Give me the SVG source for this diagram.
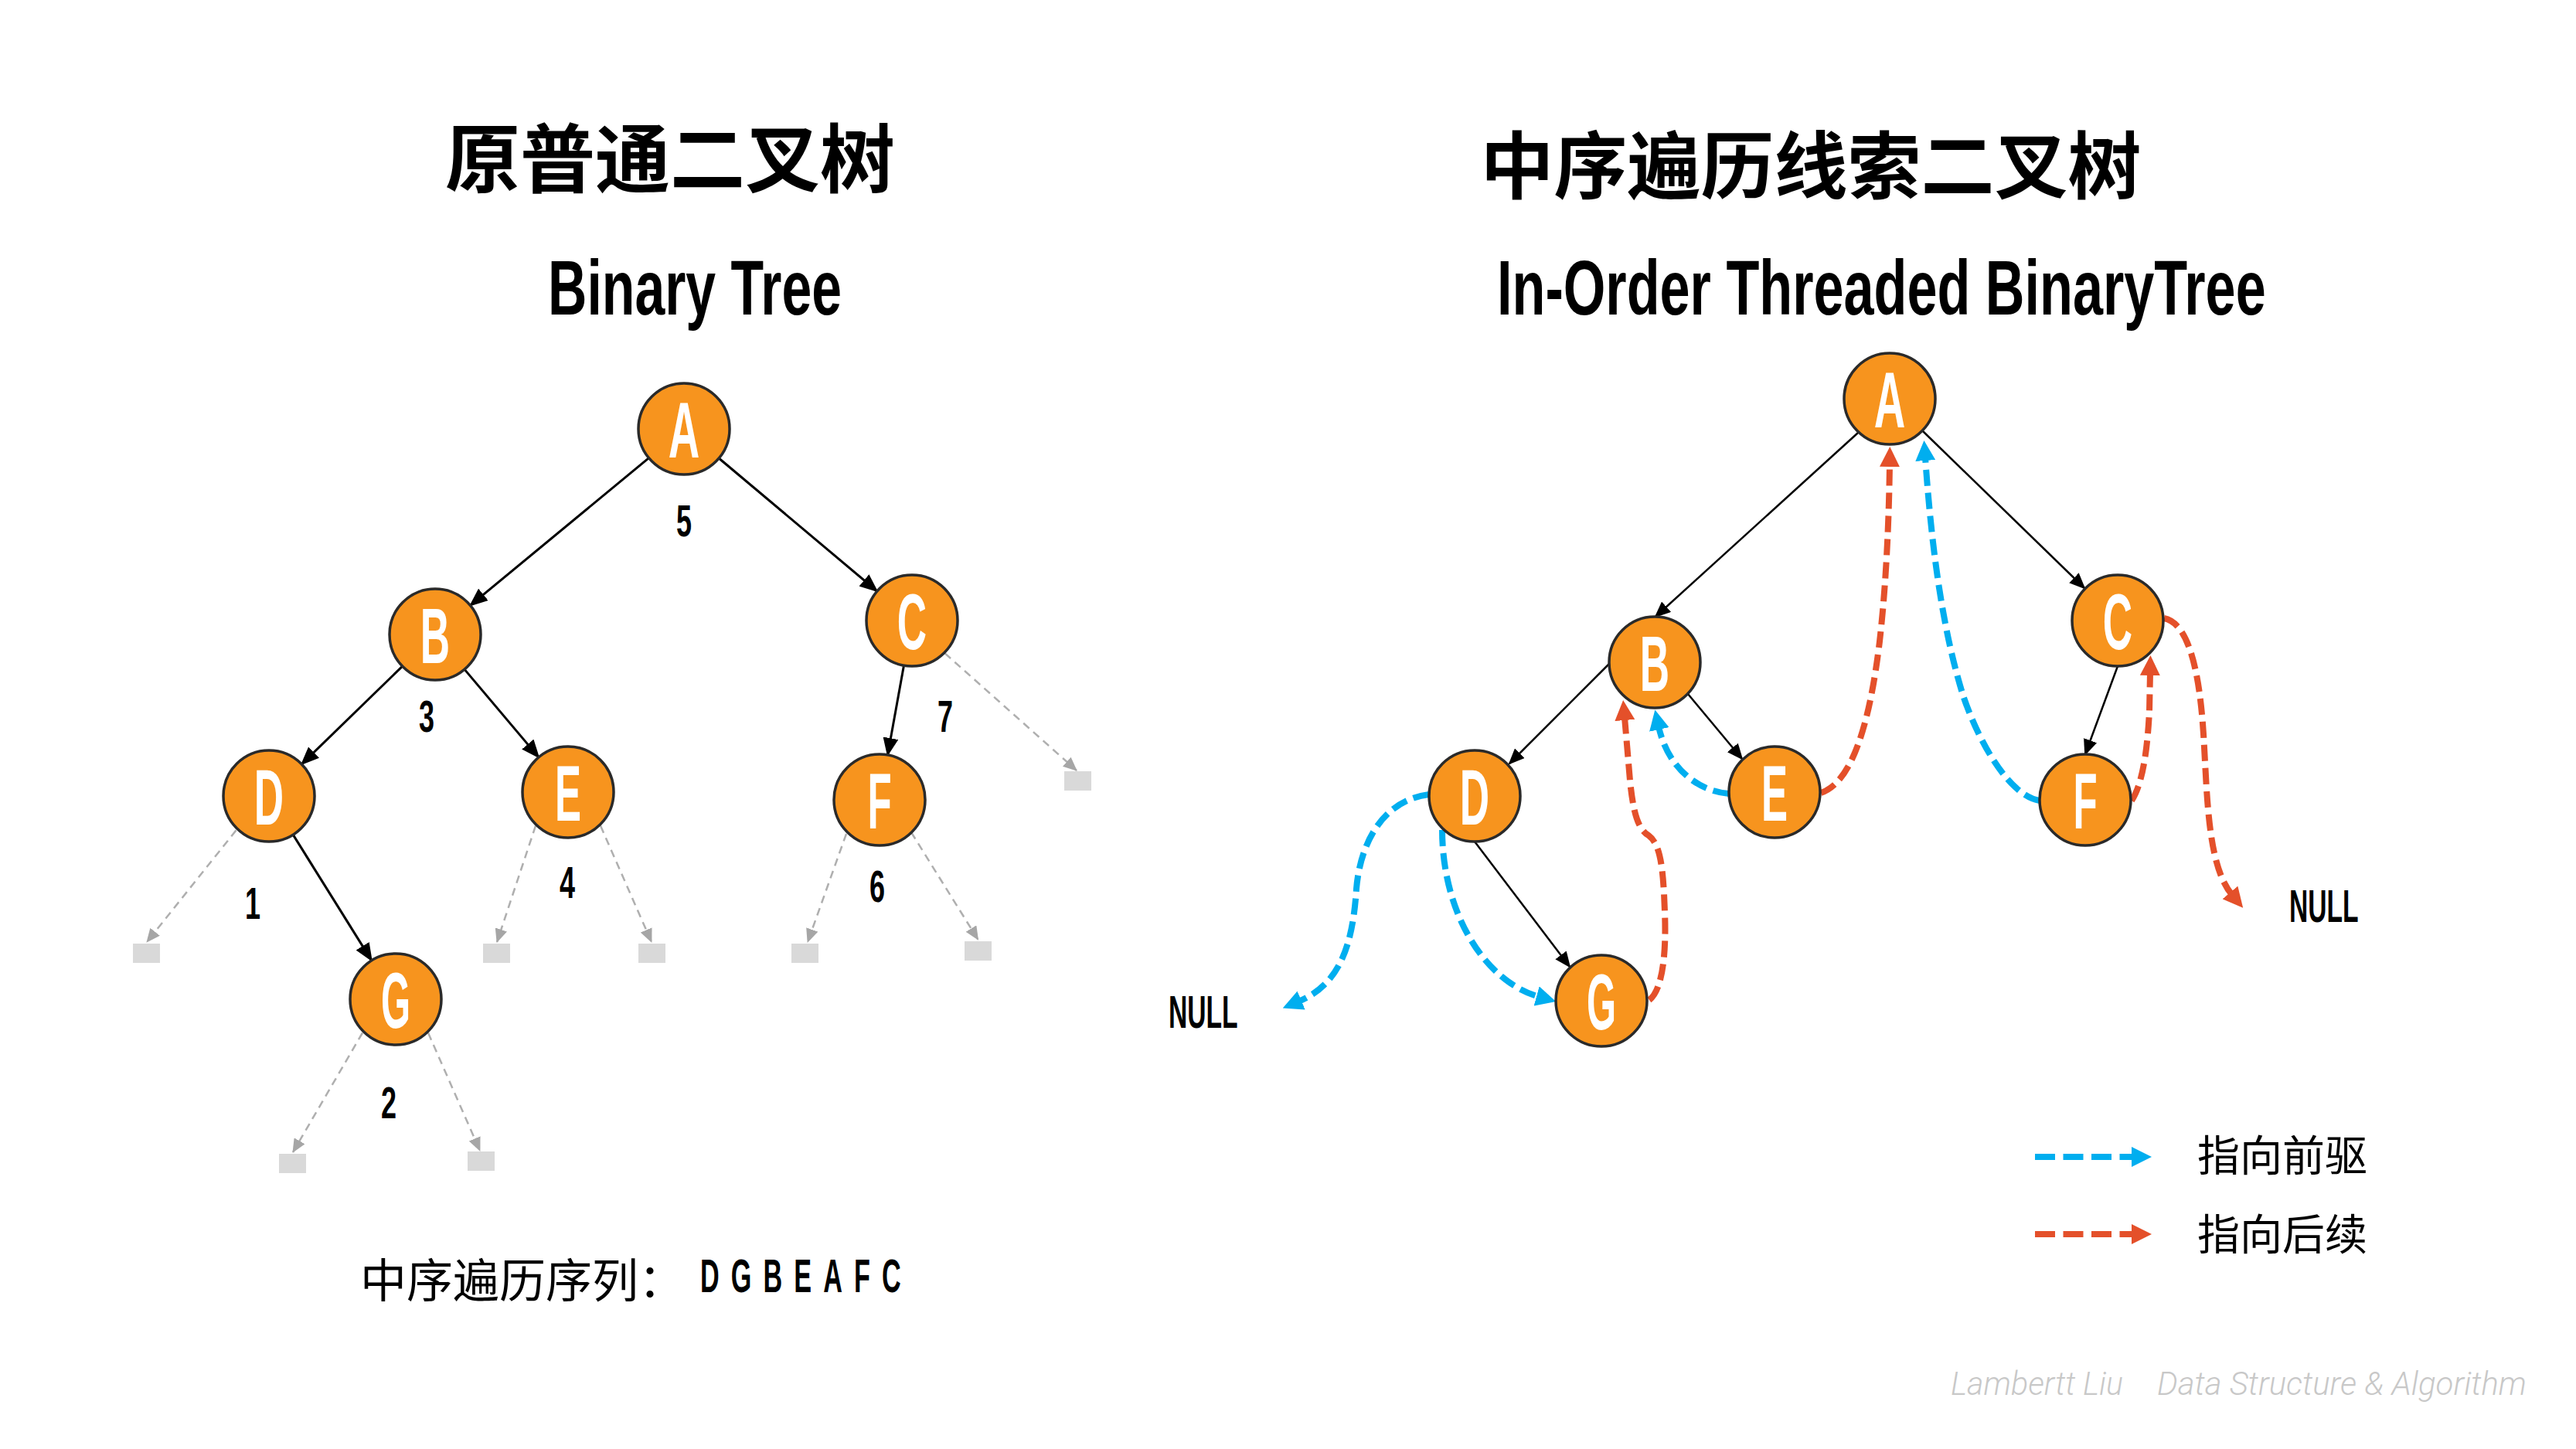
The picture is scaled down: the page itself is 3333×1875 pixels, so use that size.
<svg xmlns="http://www.w3.org/2000/svg" width="3333" height="1875" viewBox="0 0 3333 1875">
<style>
.bg{fill:#ffffff}
.node circle{fill:#F7941E;stroke:#2a2a2a;stroke-width:3.5}
.nl{font-family:"Liberation Sans",Arial,sans-serif;font-weight:700;font-size:102px;fill:#ffffff}
.num{font-family:"Liberation Sans",Arial,sans-serif;font-weight:700;font-size:58px;fill:#000000}
.cond{font-family:"Liberation Sans",Arial,sans-serif;font-weight:700;fill:#000000}
.cjkb{font-family:"Noto Sans CJK SC","Noto Sans CJK JP",sans-serif;font-weight:700;fill:#000000}
.cjk{font-family:"Noto Sans CJK SC","Noto Sans CJK JP",sans-serif;font-weight:400;fill:#000000}
.edge{fill:none;stroke:#000000;stroke-width:3;marker-end:url(#mk-black)}
.edge2{fill:none;stroke:#000000;stroke-width:2.5;marker-end:url(#mk-black2)}
.null{fill:none;stroke:#AFAFAF;stroke-width:2.5;stroke-dasharray:10 7;marker-end:url(#mk-gray)}
.leaf{fill:#D9D9D9}
.pred{fill:none;stroke:#00AEEF;stroke-width:8;stroke-dasharray:21 9;marker-end:url(#mk-blue)}
.succ{fill:none;stroke:#E4502A;stroke-width:8;stroke-dasharray:21 9;marker-end:url(#mk-red)}
.wm{font-family:Roboto,"Open Sans",sans-serif;font-style:italic;font-weight:300;font-size:42px;fill:#C8C8C8}
</style>
<defs>
<marker id="mk-black" markerUnits="userSpaceOnUse" viewBox="0 0 24 20" markerWidth="24" markerHeight="20" refX="22" refY="10" orient="auto"><path d="M0,0 L24,10 L0,20 z" fill="#000000"/></marker>
<marker id="mk-black2" markerUnits="userSpaceOnUse" viewBox="0 0 21 18" markerWidth="21" markerHeight="18" refX="19" refY="9" orient="auto"><path d="M0,0 L21,9 L0,18 z" fill="#000000"/></marker>
<marker id="mk-gray" markerUnits="userSpaceOnUse" viewBox="0 0 18 16" markerWidth="18" markerHeight="16" refX="17" refY="8" orient="auto"><path d="M0,0 L18,8 L0,16 z" fill="#A6A6A6"/></marker>
<marker id="mk-blue" markerUnits="userSpaceOnUse" viewBox="0 0 26 26" markerWidth="26" markerHeight="26" refX="4" refY="13" orient="auto"><path d="M0,0 L26,13 L0,26 z" fill="#00AEEF"/></marker>
<marker id="mk-red" markerUnits="userSpaceOnUse" viewBox="0 0 26 26" markerWidth="26" markerHeight="26" refX="4" refY="13" orient="auto"><path d="M0,0 L26,13 L0,26 z" fill="#E4502A"/></marker>
</defs>
<rect class="bg" x="0" y="0" width="3333" height="1875"/>

<g id="titles">
<text class="cjkb" x="867" y="241" font-size="97" text-anchor="middle">原普通二叉树</text>
<text class="cond" transform="translate(709,407) scale(0.691,1)" font-size="100" textLength="550" lengthAdjust="spacingAndGlyphs">Binary Tree</text>
<text class="cjkb" x="2343" y="250" font-size="95" text-anchor="middle">中序遍历线索二叉树</text>
<text class="cond" transform="translate(1937,407) scale(0.699,1)" font-size="100" textLength="1423" lengthAdjust="spacingAndGlyphs">In-Order Threaded BinaryTree</text>
</g>

<g id="left-connectors">
<path class="edge" d="M839.5,592.6 L608.5,783.4"/>
<path class="edge" d="M930.2,593 L1134.8,765"/>
<path class="edge" d="M520.7,862.1 L390.3,988.9"/>
<path class="edge" d="M601,866.1 L697,979.9"/>
<path class="edge" d="M1169.5,861.1 L1148.5,976.9"/>
<path class="edge" d="M379.2,1080.1 L480.8,1242.9"/>
<path class="null" d="M305.5,1074.4 L190,1219"/>
<path class="null" d="M693,1068.6 L643,1219"/>
<path class="null" d="M777,1068.6 L843,1219"/>
<path class="null" d="M469,1336.5 L379,1491"/>
<path class="null" d="M554,1336.5 L621,1489"/>
<path class="null" d="M1222.6,845.4 L1393,997"/>
<path class="null" d="M1095,1079 L1045,1219"/>
<path class="null" d="M1179,1077 L1265.5,1216"/>
</g>

<g id="left-leaves">
<rect class="leaf" x="172" y="1221" width="35" height="25"/>
<rect class="leaf" x="625" y="1221" width="35" height="25"/>
<rect class="leaf" x="826" y="1221" width="35" height="25"/>
<rect class="leaf" x="361" y="1493" width="35" height="25"/>
<rect class="leaf" x="605" y="1490" width="35" height="25"/>
<rect class="leaf" x="1377" y="998" width="35" height="25"/>
<rect class="leaf" x="1024" y="1221" width="35" height="25"/>
<rect class="leaf" x="1248" y="1218" width="35" height="25"/>
</g>

<g id="L-A" class="node"><circle cx="885" cy="555" r="59"/><text class="nl" transform="translate(885,555) scale(0.55,1)" y="36.5" text-anchor="middle">A</text></g>
<g id="L-B" class="node"><circle cx="563" cy="821" r="59"/><text class="nl" transform="translate(563,821) scale(0.52,1)" y="36.5" text-anchor="middle">B</text></g>
<g id="L-C" class="node"><circle cx="1180" cy="803" r="59"/><text class="nl" transform="translate(1180,803) scale(0.52,1)" y="36.5" text-anchor="middle">C</text></g>
<g id="L-D" class="node"><circle cx="348" cy="1030" r="59"/><text class="nl" transform="translate(348,1030) scale(0.52,1)" y="36.5" text-anchor="middle">D</text></g>
<g id="L-E" class="node"><circle cx="735" cy="1025" r="59"/><text class="nl" transform="translate(735,1025) scale(0.5,1)" y="36.5" text-anchor="middle">E</text></g>
<g id="L-F" class="node"><circle cx="1138" cy="1035" r="59"/><text class="nl" transform="translate(1138,1035) scale(0.5,1)" y="36.5" text-anchor="middle">F</text></g>
<g id="L-G" class="node"><circle cx="512" cy="1293" r="59"/><text class="nl" transform="translate(512,1293) scale(0.48,1)" y="36.5" text-anchor="middle">G</text></g>

<g id="left-order-labels">
<text class="num" transform="translate(885,694) scale(0.62,1)" text-anchor="middle">5</text>
<text class="num" transform="translate(552,947) scale(0.62,1)" text-anchor="middle">3</text>
<text class="num" transform="translate(1223,947) scale(0.62,1)" text-anchor="middle">7</text>
<text class="num" transform="translate(1135,1167) scale(0.62,1)" text-anchor="middle">6</text>
<text class="num" transform="translate(327,1189) scale(0.62,1)" text-anchor="middle">1</text>
<text class="num" transform="translate(734,1162) scale(0.62,1)" text-anchor="middle">4</text>
<text class="num" transform="translate(503,1447) scale(0.62,1)" text-anchor="middle">2</text>
</g>

<g id="sequence">
<text class="cjk" x="466" y="1679" font-size="60">中序遍历序列：</text>
<text class="cond" transform="translate(906,1672) scale(0.56,1)" font-size="61" letter-spacing="27">DGBEAFC</text>
</g>

<g id="right-connectors">
<path class="edge2" d="M2404,560 L2142,798"/>
<path class="edge2" d="M2488,558 L2697,761"/>
<path class="edge2" d="M2083,858 L1953,988"/>
<path class="edge2" d="M2184,898 L2254,982"/>
<path class="edge2" d="M1908,1089 L2031,1251"/>
<path class="edge2" d="M2740,862 L2698,976"/>
<path class="pred" d="M1849,1028 C1790,1035 1760,1090 1755,1150 C1750,1230 1730,1275 1680,1296"/>
<path class="pred" d="M1866,1074 C1866,1180 1920,1270 1992,1290"/>
<path class="succ" d="M2134,1294 C2152,1280 2156,1230 2154,1180 C2152,1120 2148,1092 2133,1081 C2119,1073 2113,1050 2109,1010 L2102,928"/>
<path class="pred" d="M2237,1027 C2198,1024 2158,995 2146,940"/>
<path class="succ" d="M2356,1026 C2398,1012 2420,930 2432,830 C2440,760 2444,680 2445,600"/>
<path class="pred" d="M2639,1036 C2600,1030 2560,960 2540,900 C2515,820 2500,720 2491,592"/>
<path class="succ" d="M2758,1036 C2774,1012 2779,960 2781,920 L2782,870"/>
<path class="succ" d="M2800,800 C2832,806 2846,870 2851,950 C2856,1030 2856,1120 2888,1158"/>
</g>

<g id="R-A" class="node"><circle cx="2445" cy="516" r="59"/><text class="nl" transform="translate(2445,516) scale(0.55,1)" y="36.5" text-anchor="middle">A</text></g>
<g id="R-B" class="node"><circle cx="2141" cy="857" r="59"/><text class="nl" transform="translate(2141,857) scale(0.52,1)" y="36.5" text-anchor="middle">B</text></g>
<g id="R-C" class="node"><circle cx="2740" cy="803" r="59"/><text class="nl" transform="translate(2740,803) scale(0.52,1)" y="36.5" text-anchor="middle">C</text></g>
<g id="R-D" class="node"><circle cx="1908" cy="1030" r="59"/><text class="nl" transform="translate(1908,1030) scale(0.52,1)" y="36.5" text-anchor="middle">D</text></g>
<g id="R-E" class="node"><circle cx="2296" cy="1025" r="59"/><text class="nl" transform="translate(2296,1025) scale(0.5,1)" y="36.5" text-anchor="middle">E</text></g>
<g id="R-F" class="node"><circle cx="2698" cy="1035" r="59"/><text class="nl" transform="translate(2698,1035) scale(0.5,1)" y="36.5" text-anchor="middle">F</text></g>
<g id="R-G" class="node"><circle cx="2072" cy="1295" r="59"/><text class="nl" transform="translate(2072,1295) scale(0.48,1)" y="36.5" text-anchor="middle">G</text></g>

<g id="null-labels">
<text class="cond" transform="translate(1512,1330) scale(0.56,1)" font-size="60">NULL</text>
<text class="cond" transform="translate(2962,1193) scale(0.56,1)" font-size="60">NULL</text>
</g>

<g id="legend">
<path class="pred" d="M2633,1497 L2762,1497" style="stroke-dasharray:26 10.5"/>
<text class="cjk" x="2843" y="1515" font-size="55">指向前驱</text>
<path class="succ" d="M2633,1597 L2762,1597" style="stroke-dasharray:26 10.5"/>
<text class="cjk" x="2843" y="1617" font-size="55">指向后续</text>
</g>

<g id="watermark">
<text class="wm" x="2524" y="1805" textLength="223" lengthAdjust="spacingAndGlyphs">Lambertt Liu</text>
<text class="wm" x="2791" y="1805" textLength="478" lengthAdjust="spacingAndGlyphs">Data Structure &amp; Algorithm</text>
</g>
</svg>
